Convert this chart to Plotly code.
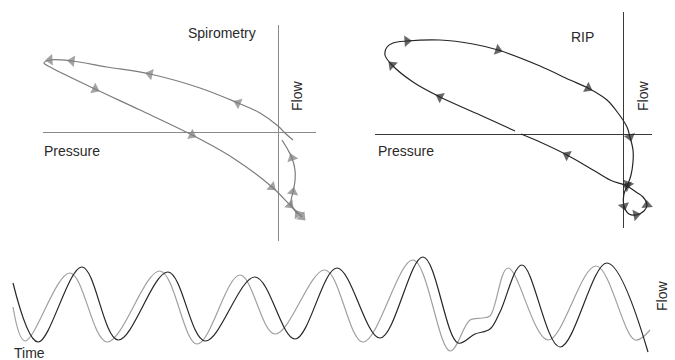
import plotly.graph_objects as go

# ---- Spirometry flow-pressure loop (pressure in cmH2O, flow in L/s) ----
spiro_pressure = [1.5, 0.8, 0.0, -1.8, -4.0, -7.8, -12.8, -17.1, -20.6, -22.8,
                  -23.4, -22.8, -18.3, -13.8, -8.6, -4.5, -0.6, 1.2, 2.4]
spiro_flow = [-0.08, -0.02, 0.06, 0.19, 0.29, 0.44, 0.58, 0.65, 0.71, 0.72,
              0.69, 0.65, 0.43, 0.22, -0.03, -0.26, -0.55, -0.73, -0.85]
spiro_tail_pressure = [2.0, 1.3, 1.5, 1.7, 1.7, 1.4, 1.0, 0.4]
spiro_tail_flow = [-0.82, -0.72, -0.60, -0.49, -0.38, -0.26, -0.18, -0.08]
spiro_arrow_idx = [4, 6, 8, 9, 12, 14, 16, 17, 18]
spiro_tail_arrow_idx = [0, 2, 5]

# ---- RIP flow-pressure loop ----
rip_pressure = [-10.8, -14.3, -18.3, -21.0, -23.1, -23.8, -23.6, -23.0, -21.6, -18.3,
                -15.0, -12.5, -8.3, -5.3, -3.5, -1.6, -0.5, 0.4, 0.7, 1.0,
                1.0, 0.8, 0.5, 0.1, 0.1, 0.6, 1.3, 2.1, 2.4, 2.0,
                1.3, 0.4, -1.3, -3.0, -5.6, -8.3, -10.2]
rip_flow = [0.03, 0.19, 0.37, 0.52, 0.69, 0.79, 0.87, 0.91, 0.93, 0.94,
            0.90, 0.84, 0.68, 0.54, 0.46, 0.34, 0.21, 0.07, -0.03, -0.16,
            -0.28, -0.41, -0.50, -0.60, -0.72, -0.80, -0.81, -0.77, -0.71, -0.63,
            -0.58, -0.52, -0.46, -0.36, -0.21, -0.08, 0.00]
rip_arrow_idx = [2, 4, 8, 11, 14, 18, 22, 24, 26, 28, 31, 34]

# ---- Flow vs time (s, L/s) ----
t_rip = [0.26, 0.76, 1.64, 2.36, 3.36, 4.10, 5.10, 5.90, 6.74, 7.60, 8.46, 9.16,
         9.50, 9.80, 10.00, 10.44, 11.20, 12.14, 12.96]
flow_rip = [0.34, -0.84, 0.66, -0.80, 0.56, -0.82, 0.46, -0.78, 0.64, -0.76, 0.86, -0.86,
            -0.68, -0.58, -0.24, 0.70, -0.94, 0.74, -1.04]
t_spiro = [0.26, 0.50, 1.40, 2.14, 3.20, 3.94, 4.80, 5.50, 6.50, 7.26, 8.26, 9.00,
           9.40, 9.64, 9.80, 10.16, 10.96, 11.92, 12.70, 13.00]
flow_spiro = [-0.14, -0.82, 0.54, -0.84, 0.58, -0.88, 0.50, -0.68, 0.60, -0.84, 0.80, -1.02,
              -0.40, -0.36, -0.32, 0.64, -0.80, 0.68, -0.80, -0.60]

GRAY = "#7c7c7c"
DARK = "#262626"
LIGHT = "#a0a0a0"
FONT = "Liberation Sans, Arial, sans-serif"


def arrow_trace(xs, ys, idx, color, xaxis, yaxis, closed=False, size=10):
    """Filled arrowheads sitting on the curve, oriented along the local direction."""
    n = len(xs)
    ax, ay, sizes = [], [], []
    for i in idx:
        if closed:
            a, b = (i - 1) % n, (i + 1) % n
        else:
            a, b = max(i - 1, 0), min(i + 1, n - 1)
        dx, dy = xs[b] - xs[a], ys[b] - ys[a]
        ax += [xs[i] - 0.05 * dx, xs[i]]
        ay += [ys[i] - 0.05 * dy, ys[i]]
        sizes += [0, size]
    return go.Scatter(
        x=ax, y=ay, mode="markers", xaxis=xaxis, yaxis=yaxis,
        marker=dict(symbol="triangle-up", angleref="previous", size=sizes,
                    color=color, line=dict(width=0)),
        hoverinfo="skip", showlegend=False, cliponaxis=False,
    )


def curve(xs, ys, color, xaxis, yaxis, width=1.2):
    return go.Scatter(
        x=xs, y=ys, mode="lines", xaxis=xaxis, yaxis=yaxis,
        line=dict(color=color, width=width, shape="spline", smoothing=1.0),
        hoverinfo="skip", showlegend=False,
    )


fig = go.Figure()

# Spirometry loop
fig.add_trace(curve(spiro_pressure, spiro_flow, GRAY, "x", "y"))
fig.add_trace(curve(spiro_tail_pressure, spiro_tail_flow, GRAY, "x", "y"))
fig.add_trace(arrow_trace(spiro_pressure, spiro_flow, spiro_arrow_idx, GRAY, "x", "y"))
fig.add_trace(arrow_trace(spiro_tail_pressure, spiro_tail_flow, spiro_tail_arrow_idx, GRAY, "x", "y"))

# RIP loop
fig.add_trace(curve(rip_pressure, rip_flow, DARK, "x2", "y2"))
fig.add_trace(arrow_trace(rip_pressure, rip_flow, rip_arrow_idx, DARK, "x2", "y2", closed=True))

# Flow traces over time
fig.add_trace(curve(t_spiro, flow_spiro, LIGHT, "x3", "y3"))
fig.add_trace(curve(t_rip, flow_rip, DARK, "x3", "y3"))

W, H = 675, 360


def dom_x(a, b):
    return [a / W, b / W]


def dom_y(top, bottom):
    return [1 - bottom / H, 1 - top / H]


hidden = dict(showgrid=False, showticklabels=False, ticks="", showline=False)

fig.update_layout(
    width=W, height=H,
    margin=dict(l=0, r=0, t=0, b=0),
    paper_bgcolor="white", plot_bgcolor="rgba(0,0,0,0)",
    showlegend=False,
    font=dict(family=FONT, size=14, color="#2a2a2a"),
    xaxis=dict(domain=dom_x(43, 316), range=[-23.5, 3.8], zeroline=True,
               zerolinecolor="#8a8a8a", zerolinewidth=1.4, **hidden),
    yaxis=dict(domain=dom_y(25, 241), range=[-1.09, 1.07], zeroline=True,
               zerolinecolor="#8a8a8a", zerolinewidth=1.4, **hidden),
    xaxis2=dict(domain=dom_x(375, 652), range=[-24.8, 2.9], zeroline=True,
                zerolinecolor="#3a3a3a", zerolinewidth=1.1, anchor="y2", **hidden),
    yaxis2=dict(domain=dom_y(12, 228), range=[-0.94, 1.22], zeroline=True,
                zerolinecolor="#3a3a3a", zerolinewidth=1.1, anchor="x2", **hidden),
    xaxis3=dict(domain=[0, 1], range=[0, 13.5], zeroline=False, anchor="y3", **hidden),
    yaxis3=dict(domain=dom_y(250, 360), range=[-1.2, 1.0], zeroline=False, anchor="x3", **hidden),
)


def label(text, x, y, xanchor="center", angle=0):
    fig.add_annotation(text=text, x=x / W, y=1 - y / H, xref="paper", yref="paper",
                       xanchor=xanchor, yanchor="middle", textangle=angle,
                       showarrow=False, font=dict(family=FONT, size=14, color="#2a2a2a"))


label("Spirometry", 222, 33)
label("Flow", 297, 96, angle=-90)
label("Pressure", 42, 151, xanchor="left")
label("RIP", 582, 37)
label("Flow", 643, 96, angle=-90)
label("Pressure", 376, 151, xanchor="left")
label("Time", 12, 353, xanchor="left")
label("Flow", 662, 296, angle=-90)

fig.write_html("out.html")
